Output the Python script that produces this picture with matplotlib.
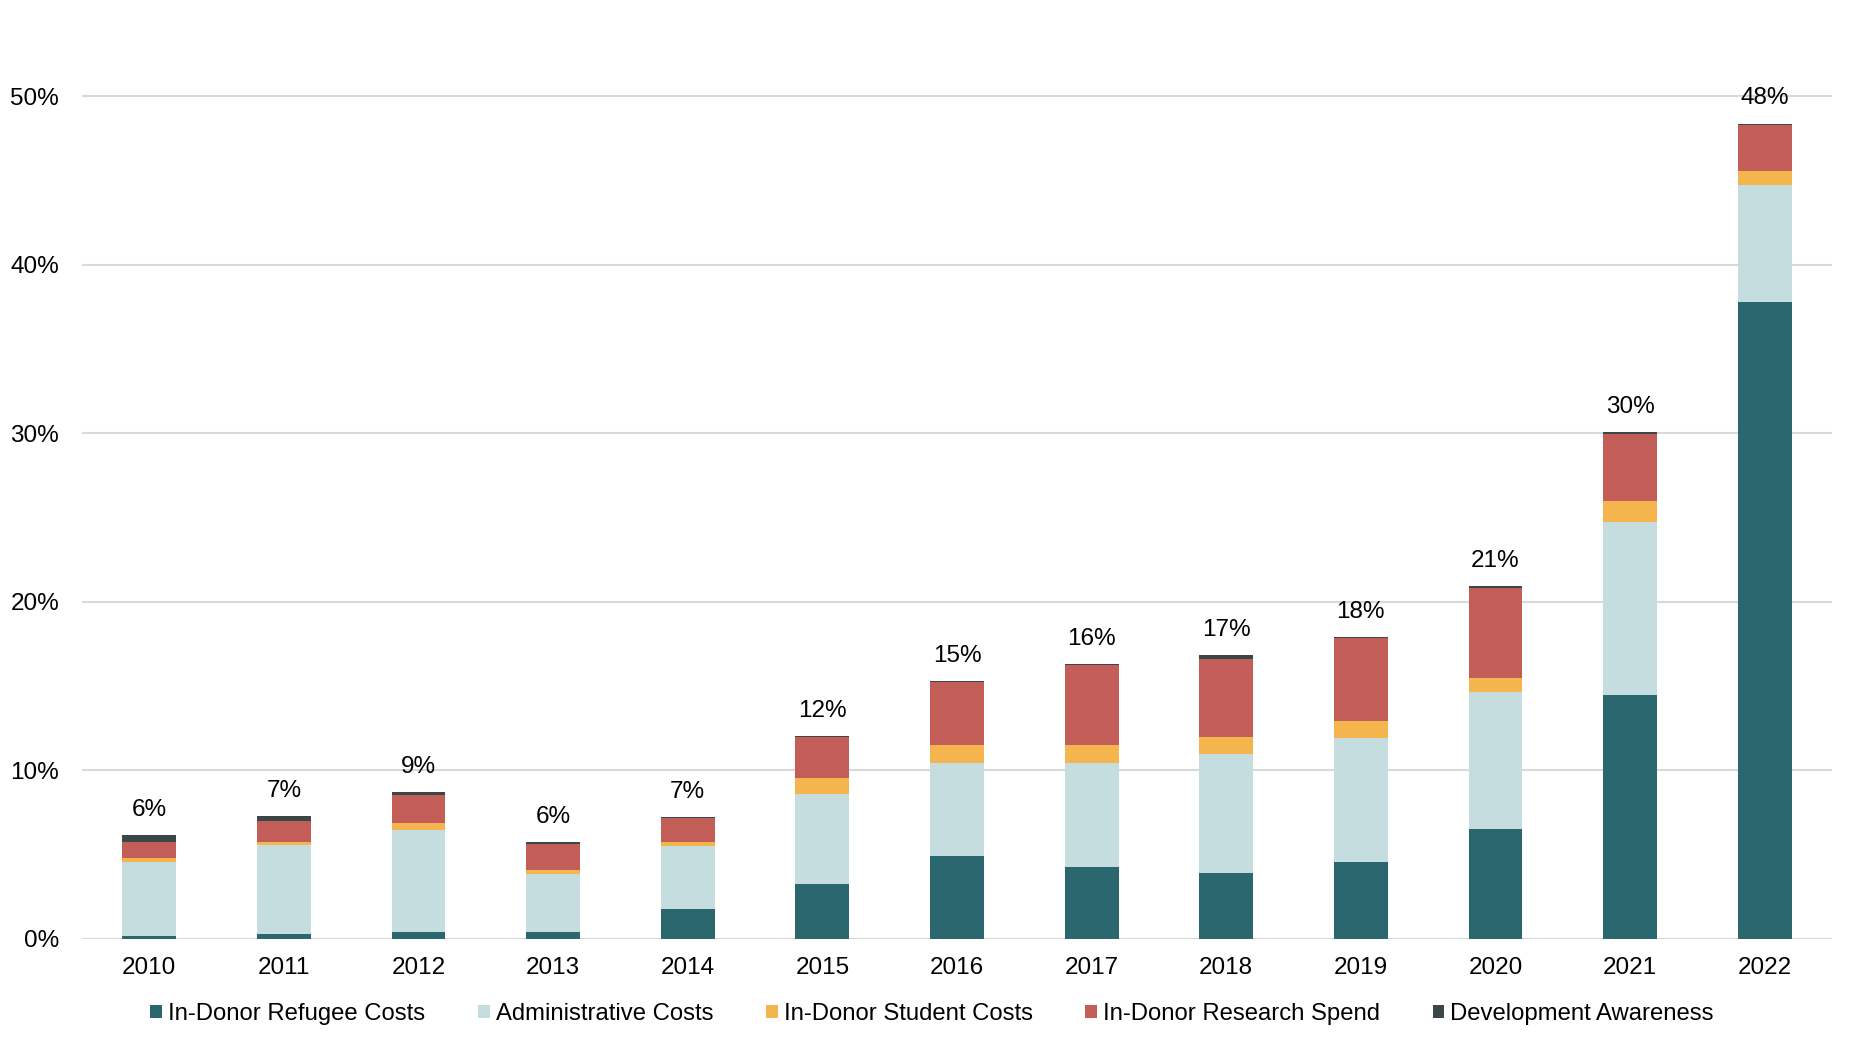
import matplotlib
matplotlib.use("Agg")
import matplotlib.pyplot as plt
from matplotlib.patches import Patch
import numpy as np

years = ["2010", "2011", "2012", "2013", "2014", "2015", "2016",
         "2017", "2018", "2019", "2020", "2021", "2022"]

# segment values (in %)
refugee   = [0.18, 0.30, 0.42, 0.42, 1.79, 3.24, 4.90, 4.25, 3.89, 4.55, 6.50, 14.45, 37.80]
admin     = [4.40, 5.24, 6.01, 3.39, 3.69, 5.34, 5.52, 6.17, 7.06, 7.35, 8.12, 10.25, 6.94]
student   = [0.18, 0.17, 0.42, 0.24, 0.23, 0.95, 1.06, 1.06, 1.01, 1.00, 0.83, 1.25, 0.83]
research  = [0.95, 1.25, 1.66, 1.55, 1.43, 2.43, 3.75, 4.74, 4.62, 4.93, 5.34, 3.97, 2.72]
awareness = [0.42, 0.30, 0.18, 0.11, 0.06, 0.06, 0.06, 0.06, 0.24, 0.05, 0.12, 0.12, 0.06]

series_names = ["In-Donor Refugee Costs", "Administrative Costs",
                "In-Donor Student Costs", "In-Donor Research Spend",
                "Development Awareness"]
series_vals = [refugee, admin, student, research, awareness]
colors = ["#2b676e", "#c5dddf", "#f5b54e", "#c35d58", "#3b4648"]

plt.rcParams["font.family"] = ["Liberation Sans", "DejaVu Sans"]

W, H = 1856, 1046
fig = plt.figure(figsize=(W / 100, H / 100), dpi=100)
ax_left, ax_right = 82, 1832
y0_px, y50_px = 938.7, 96.0
ppu = (y0_px - y50_px) / 50.0
ymax = 55.0
ax_top = y0_px - ymax * ppu
ax = fig.add_axes([ax_left / W, 1 - y0_px / H, (ax_right - ax_left) / W,
                   (y0_px - ax_top) / H])

x = np.arange(len(years))
bottom = np.zeros(len(years))
for name, vals, c in zip(series_names, series_vals, colors):
    v = np.array(vals)
    ax.bar(x, v, width=0.4, bottom=bottom, color=c, label=name, zorder=3,
           linewidth=0)
    bottom += v

for xi, tot in zip(x, bottom):
    ax.annotate(f"{round(tot)}%", (xi, tot), xytext=(0, 14),
                textcoords="offset points", ha="center", va="baseline",
                fontsize=17.5, color="#000000")

ax.set_xlim(-0.5, len(years) - 0.5)
ax.set_ylim(0, ymax)
ax.set_yticks([0, 10, 20, 30, 40, 50])
ax.set_yticklabels([f"{t}%" for t in [0, 10, 20, 30, 40, 50]])
ax.set_xticks(x)
ax.set_xticklabels(years)
ax.tick_params(axis="both", length=0, labelsize=17.5, colors="#000000")
ax.tick_params(axis="y", pad=16.5)
ax.tick_params(axis="x", pad=13.5)
ax.yaxis.grid(True, color="#d9d9d9", linewidth=1.5, zorder=0)
ax.set_axisbelow(True)
for s in ax.spines.values():
    s.set_visible(False)

handles = [Patch(facecolor=c, edgecolor="none", label=n)
           for n, c in zip(series_names, colors)]
fig.legend(handles=handles, loc="center", ncol=5,
           bbox_to_anchor=(932 / W, 1 - 1014 / H), frameon=False,
           fontsize=17.2, handlelength=0.5, handleheight=0.5,
           handletextpad=0.25, columnspacing=2.2, borderaxespad=0)

fig.savefig("out.png", dpi=100, facecolor="white")
